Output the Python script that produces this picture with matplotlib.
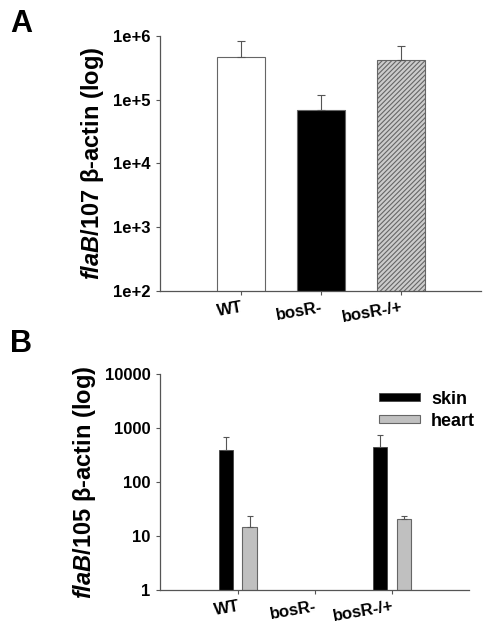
import numpy as np
import matplotlib
matplotlib.use("Agg")
import matplotlib.pyplot as plt
from matplotlib.patches import Patch

plt.rcParams['font.family'] = ['Liberation Sans', 'DejaVu Sans']
plt.rcParams['mathtext.fontset'] = 'custom'
plt.rcParams['mathtext.it'] = 'Liberation Sans:italic:bold'
plt.rcParams['mathtext.rm'] = 'Liberation Sans:bold'
plt.rcParams['mathtext.bf'] = 'Liberation Sans:bold'
plt.rcParams['hatch.color'] = '#666666'
plt.rcParams['hatch.linewidth'] = 0.8

# Panel A data
cats_a = ["WT", "bosR-", "bosR-/+"]
vals_a = [4.6e5, 6.8e4, 4.15e5]
err_a = [3.7e5, 5.2e4, 2.75e5]
ytick_a = [1e2, 1e3, 1e4, 1e5, 1e6]
ytick_labels_a = ["1e+2", "1e+3", "1e+4", "1e+5", "1e+6"]

# Panel B data
cats_b = ["WT", "bosR-", "bosR-/+"]
skin_vals = [400, np.nan, 442]
skin_err = [297, np.nan, 296]
heart_vals = [14.5, np.nan, 20.7]
heart_err = [9.0, np.nan, 2.5]
ytick_b = [1, 10, 100, 1000, 10000]
ytick_labels_b = ["1", "10", "100", "1000", "10000"]

spine_c = '#555555'

fig = plt.figure(figsize=(4.91, 6.36), dpi=100)

def style(ax):
    for s in ['top', 'right']:
        ax.spines[s].set_visible(False)
    for s in ['left', 'bottom']:
        ax.spines[s].set_color(spine_c)
        ax.spines[s].set_linewidth(0.9)
    ax.tick_params(axis='both', direction='out', length=3, width=0.8, color=spine_c)
    ax.tick_params(axis='y', labelsize=12, pad=4)
    ax.minorticks_off()

# ---------- Panel A ----------
axA = fig.add_axes([0.326, 0.5425, 0.654, 0.401])
x = np.arange(len(cats_a))
colors = ['white', 'black', '#cccccc']
hatches = [None, None, '///////']
for i in range(len(cats_a)):
    axA.bar(x[i], vals_a[i], width=0.6, color=colors[i], edgecolor='#666666',
            linewidth=0.8, hatch=hatches[i], zorder=2)
    axA.errorbar(x[i], vals_a[i], yerr=[[0], [err_a[i]]], fmt='none',
                 ecolor='#555555', elinewidth=0.8, capsize=2.8, capthick=0.8, zorder=3)
axA.set_yscale('log')
axA.set_ylim(1e2, 1e6)
axA.set_xlim(-1.01, 3.0)
style(axA)
axA.set_yticks(ytick_a)
axA.set_yticklabels(ytick_labels_a, fontweight='bold')
axA.set_xticks(x)
axA.set_xticklabels(cats_a, fontweight='bold', fontsize=12, rotation=10,
                    ha='right', rotation_mode='anchor')
axA.set_ylabel("$\\it{flaB}$/107 \u03b2-actin (log)", fontsize=17,
               fontweight='bold', labelpad=5)
fig.text(0.02, 0.962, "A", fontsize=22, fontweight='bold', va='center')

# ---------- Panel B ----------
axB = fig.add_axes([0.326, 0.0723, 0.629, 0.3392])
xb = np.arange(len(cats_b))
w = 0.19
off = 0.155
axB.bar(xb - off, skin_vals, width=w, color='black', edgecolor='#444444',
        linewidth=0.6, zorder=2, label='skin')
axB.bar(xb + off, heart_vals, width=w, color='#c0c0c0', edgecolor='#666666',
        linewidth=0.8, zorder=2, label='heart')
axB.errorbar(xb - off, skin_vals, yerr=[np.zeros(3), skin_err], fmt='none',
             ecolor='#555555', elinewidth=0.8, capsize=2.5, capthick=0.8, zorder=3)
axB.errorbar(xb + off, heart_vals, yerr=[np.zeros(3), heart_err], fmt='none',
             ecolor='#555555', elinewidth=0.8, capsize=2.5, capthick=0.8, zorder=3)
axB.set_yscale('log')
axB.set_ylim(1, 1e4)
axB.set_xlim(-1.01, 3.0)
style(axB)
axB.set_yticks(ytick_b)
axB.set_yticklabels(ytick_labels_b, fontweight='bold')
axB.set_xticks(xb)
axB.set_xticklabels(cats_b, fontweight='bold', fontsize=12, rotation=10,
                    ha='right', rotation_mode='anchor')
axB.set_ylabel("$\\it{flaB}$/105 \u03b2-actin (log)", fontsize=17,
               fontweight='bold', labelpad=5)
handles = [Patch(facecolor='black', edgecolor='#444444', linewidth=0.6),
           Patch(facecolor='#c0c0c0', edgecolor='#666666', linewidth=0.8)]
leg = axB.legend(handles, ['skin', 'heart'], loc='upper right',
                 bbox_to_anchor=(1.072, 1.0), frameon=False,
                 prop={'weight': 'bold', 'size': 13}, handlelength=2.3,
                 handleheight=0.3, handletextpad=0.6, labelspacing=0.3)
fig.text(0.02, 0.459, "B", fontsize=22, fontweight='bold', va='center')

fig.savefig("out.png", dpi=100)
